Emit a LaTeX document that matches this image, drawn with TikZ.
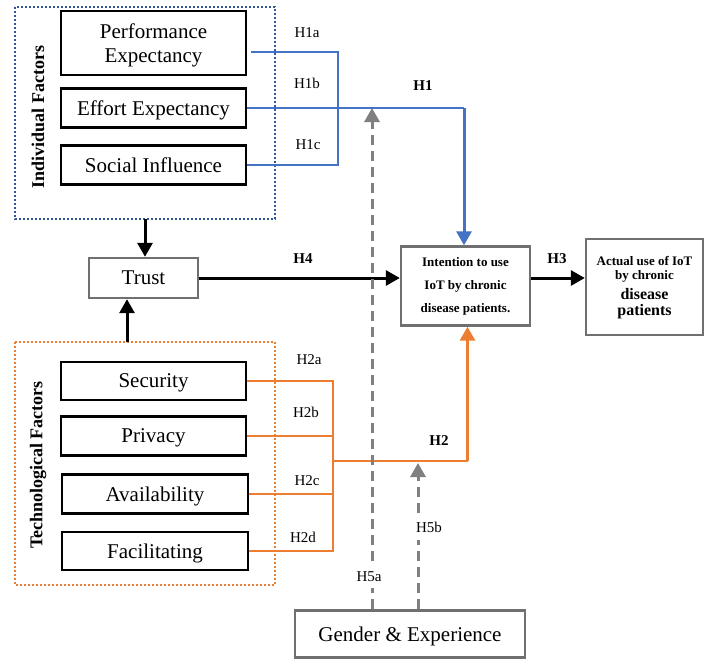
\documentclass[tikz,border=0pt]{standalone}
\usepackage{fontspec}
\setmainfont{Liberation Serif}
\usetikzlibrary{arrows.meta,calc}
\definecolor{myblue}{HTML}{4472C4}
\definecolor{dotblue}{HTML}{2F5597}
\definecolor{myorange}{HTML}{ED7D31}
\definecolor{mygray}{HTML}{808080}
\definecolor{boxgray}{HTML}{707070}
\begin{document}
\begin{tikzpicture}[x=1pt,y=-1pt,
  factor/.style={draw=black,line width=2.2pt,minimum width=185pt,inner sep=0pt,align=center,text depth=0pt,font=\fontsize{21}{24}\selectfont},
  graybox/.style={draw=boxgray,line width=2.4pt,inner sep=0pt,align=center},
  lab/.style={inner sep=0pt,font=\fontsize{15}{17}\selectfont},
  blab/.style={inner sep=0pt,font=\bfseries\fontsize{15}{17}\selectfont},
  blueline/.style={draw=myblue,line width=1.6pt},
  orangeline/.style={draw=myorange,line width=1.6pt},
  blackarrow/.style={draw=black,line width=3pt,-{Triangle[length=14pt,width=15pt]}},
  gdash/.style={draw=mygray,line width=3pt,dash pattern=on 10pt off 6pt,-{Triangle[length=14pt,width=15pt]}},
  groupframe/.style={line width=1.8pt,dash pattern=on 2pt off 2pt}
]
\useasboundingbox (0,0) rectangle (704,659);

% group frames
\draw[groupframe,draw=dotblue] (15,7) rectangle (275,219);
\draw[groupframe,draw=myorange] (15,342) rectangle (275,585);
\node[rotate=90,inner sep=0pt,font=\bfseries\fontsize{18}{20}\selectfont] (indlab) at (38,117) {Individual Factors};
\node[rotate=90,inner sep=0pt,font=\bfseries\fontsize{18}{20}\selectfont] (techlab) at (38,465) {Technological Factors};

% factor boxes
\node[factor,minimum height=64pt] (pe) at (153.5,43) {Performance\\Expectancy};
\node[factor,minimum height=39pt] (ee) at (153.5,108) {Effort Expectancy};
\node[factor,minimum height=39pt] (si) at (153.5,165) {Social Influence};
\node[factor,minimum height=38pt] (sec) at (153.5,381) {Security};
\node[factor,minimum height=39pt] (pri) at (153.5,436) {Privacy};
\node[factor,minimum height=39pt,minimum width=186pt] (ava) at (155,494) {Availability};
\node[factor,minimum height=38pt,minimum width=186pt] (fac) at (155,551) {Facilitating};

% gray boxes
\node[graybox,minimum width=109pt,minimum height=40pt,text depth=0pt,font=\fontsize{21}{24}\selectfont] (trust) at (143.5,278) {Trust};
\node[graybox,minimum width=129pt,minimum height=79pt,font=\bfseries\fontsize{13}{23}\selectfont] (int) at (465.5,286) {Intention to use\\IoT by chronic\\disease patients.};
\node[graybox,minimum width=117pt,minimum height=96pt] (act) at (644.5,287) {};
\node[inner sep=0pt,font=\bfseries\fontsize{13}{15}\selectfont] (act1) at (644.5,261) {Actual use of IoT};
\node[inner sep=0pt,font=\bfseries\fontsize{13}{15}\selectfont] (act2) at (644.5,276) {by chronic};
\node[inner sep=0pt,font=\bfseries\fontsize{16}{18}\selectfont] (act3) at (644.5,294) {disease};
\node[inner sep=0pt,font=\bfseries\fontsize{16}{18}\selectfont] (act4) at (644.5,312) {patients};
\node[graybox,minimum width=230pt,minimum height=47pt,text depth=0pt,font=\fontsize{21}{24}\selectfont] (gen) at (410,634) {Gender \& Experience};

% coordinates
\coordinate (bx) at (338,0);
\coordinate (ox) at (333,0);
\coordinate (h5a) at (372,108);
\coordinate (h5b) at (418,463);
\coordinate (oj) at (333,461);
\coordinate (mid) at (0,278);
\coordinate (intS) at ($(int.south)+(2,0)$);
\coordinate (intN) at ($(int.north)+(-1.5,0)$);

% blue connectors
\draw[blueline] ($(pe.east)+(4,9)$) -| (bx |- si.east) -- (si.east);
\draw[blueline] (ee.east) -- (intN |- ee.east);
\draw[draw=myblue,line width=3pt,-{Triangle[length=14pt,width=15pt]}] (intN |- ee.east) -- (intN);

% orange connectors
\draw[orangeline] (sec.east) -| (ox |- fac.east) -- (fac.east);
\draw[orangeline] (pri.east) -- (ox |- pri.east);
\draw[orangeline] (ava.east) -- (ox |- ava.east);
\draw[draw=myorange,line width=2pt] (oj) -- (intS |- oj);
\draw[draw=myorange,line width=3pt,-{Triangle[length=14pt,width=15pt]}] (intS |- oj) -- (intS);

% black arrows
\coordinate (bf) at (145,219);
\coordinate (of) at (127,342);
\draw[blackarrow] (bf) -- (trust.north -| bf);
\draw[blackarrow] (of) -- (trust.south -| of);
\draw[blackarrow] (trust.east |- mid) -- (int.west |- mid);
\draw[blackarrow] (int.east |- mid) -- (act.west |- mid);

% gray dashed moderators
\draw[gdash] (h5a |- gen.north) -- (h5a);
\draw[gdash] (h5b |- gen.north) -- (h5b);

% labels
\node[lab] (l1a) at (307,33) {H1a};
\node[lab] (l1b) at (307,83) {H1b};
\node[lab] (l1c) at (308,145) {H1c};
\node[blab] (l1) at (423,86) {H1};
\node[blab] (l4) at (303,259) {H4};
\node[blab] (l3) at (557,259) {H3};
\node[blab] (l2) at (439,441) {H2};
\node[lab] (l2a) at (309,360) {H2a};
\node[lab] (l2b) at (306,412) {H2b};
\node[lab] (l2c) at (307,481) {H2c};
\node[lab] (l2d) at (303,537) {H2d};
\node[lab,fill=white,inner xsep=3pt,inner ysep=6pt] (l5a) at (369,577) {H5a};
\node[lab,fill=white,inner xsep=3pt,inner ysep=8pt] (l5b) at (429,527) {H5b};
\end{tikzpicture}
\end{document}
